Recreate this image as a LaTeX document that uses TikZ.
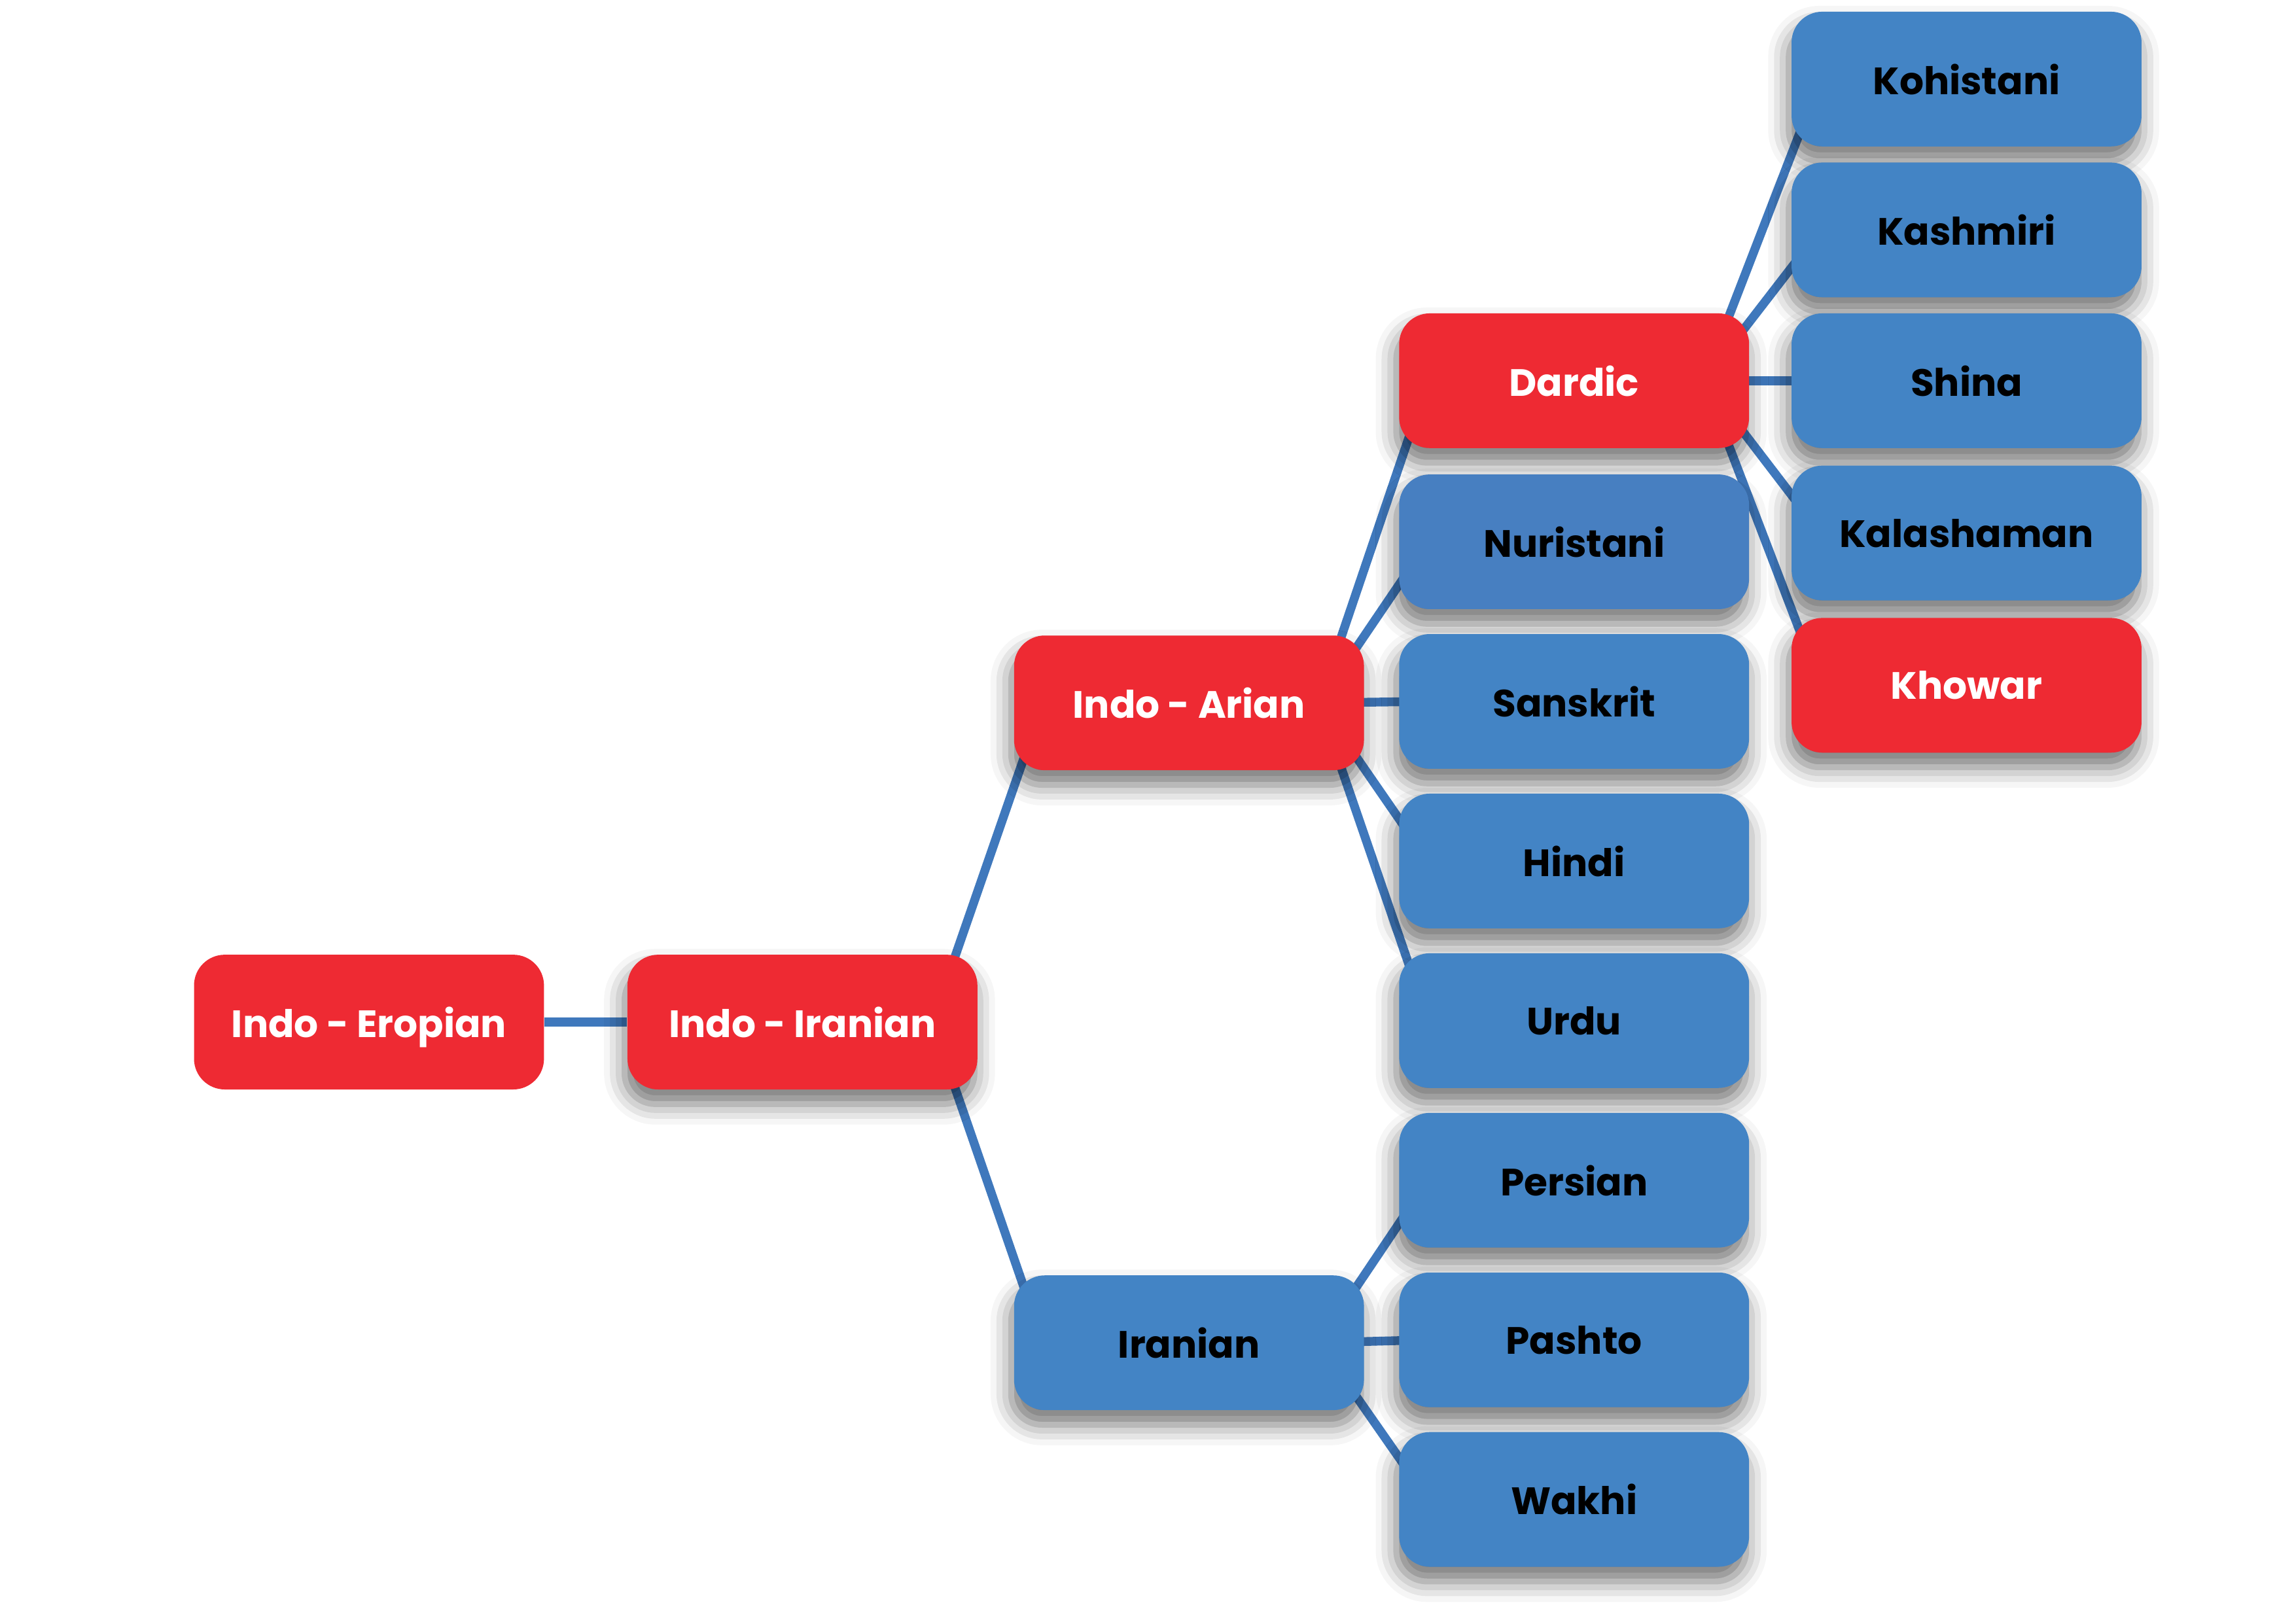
\documentclass[tikz,border=0pt]{standalone}
\usepackage{fontspec}
\setmainfont{Poppins}
\usetikzlibrary{shadows.blur}
\definecolor{lred}{HTML}{EE2A33}
\definecolor{lblue}{HTML}{4384C5}
\definecolor{lblueb}{HTML}{477FC1}
\definecolor{lline}{HTML}{3F78BC}
\pgfdeclarelayer{background}
\pgfsetlayers{background,main}
\begin{document}
\begin{tikzpicture}[x=1pt, y=-1pt,
  font=\fontsize{26}{30}\selectfont\bfseries,
  box/.style={rounded corners=21pt, minimum width=239pt, minimum height=92pt, inner sep=0pt, text depth=0pt},
  shade/.style={blur shadow={shadow xshift=-2pt, shadow yshift=-10pt, shadow blur radius=14pt, shadow opacity=55}},
  redbox/.style={box, shade, fill=lred, text=white},
  bluebox/.style={box, shade, fill=lblue, text=black},
  link/.style={draw=lline, line width=6pt}]
  \useasboundingbox (0,0) rectangle (1568,1109);
  % root and first level
  \node[box, fill=lred, text=white] (ie) at (252,698) {Indo - Eropian};
  \node[redbox] (ii) at (548,698) {Indo - Iranian};
  \node[redbox] (ia) at (812,480) {Indo - Arian};
  \node[bluebox] (ir) at (812,917) {Iranian};
  % third column
  \node[redbox] (dar) at (1075,260) {Dardic};
  \node[bluebox, fill=lblueb] (nur) at (1075,370) {Nuristani};
  \node[bluebox] (san) at (1075,479) {Sanskrit};
  \node[bluebox] (hin) at (1075,588) {Hindi};
  \node[bluebox] (urd) at (1075,697) {Urdu};
  \node[bluebox] (per) at (1075,806) {Persian};
  \node[bluebox] (pas) at (1075,915) {Pashto};
  \node[bluebox] (wak) at (1075,1024) {Wakhi};
  % dardic languages
  \node[bluebox] (koh) at (1343,54) {Kohistani};
  \node[bluebox] (kas) at (1343,157) {Kashmiri};
  \node[bluebox] (shi) at (1343,260) {Shina};
  \node[bluebox] (kal) at (1343,364) {Kalashaman};
  \node[redbox] (kho) at (1343,468) {Khowar};
  % connectors
  \begin{pgfonlayer}{background}
    \draw[link] (ie.east) -- (ii.west);
    \foreach \p/\c in {ii/ia, ii/ir, ia/dar, ia/nur, ia/san, ia/hin, ia/urd,
                       ir/per, ir/pas, ir/wak, dar/koh, dar/kas, dar/shi, dar/kal, dar/kho}
      \draw[link] ([xshift=-31pt]\p.east) -- ([xshift=20pt]\c.west);
  \end{pgfonlayer}
\end{tikzpicture}
\end{document}
